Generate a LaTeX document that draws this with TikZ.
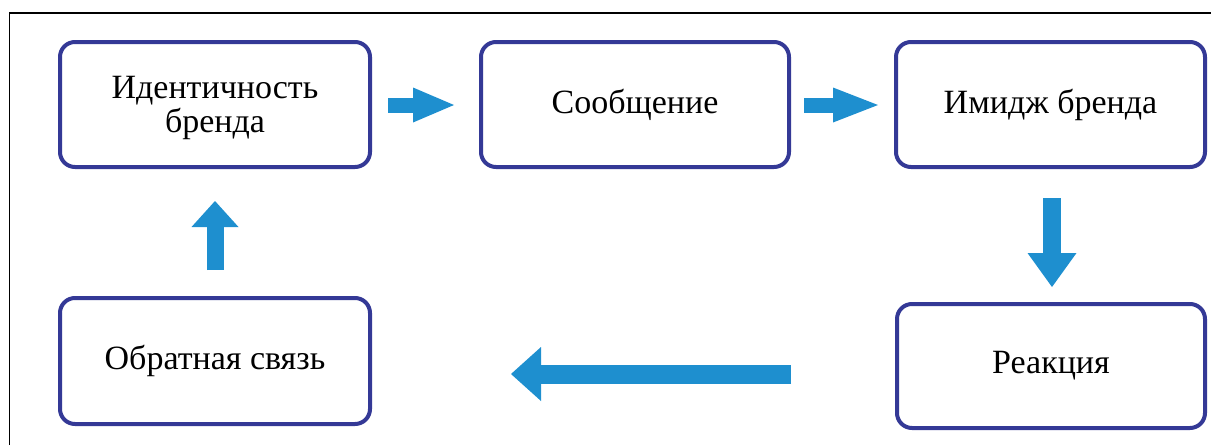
\documentclass[tikz,border=0pt]{standalone}
\usepackage{fontspec}
\setmainfont{Liberation Serif}
\usetikzlibrary{arrows.meta}

\definecolor{boxline}{RGB}{52,57,150}
\definecolor{flow}{RGB}{30,143,207}

\tikzset{
  stagebox/.style={draw=boxline, line width=4pt, rounded corners=15pt,
    fill=white, align=center, text=black, inner sep=0pt,
    font=\fontsize{34}{34}\selectfont},
  blockarrow/.style n args={3}{draw=flow, line width=#1,
    -{Triangle[width=#2, length=#3, line width=0pt, fill=flow]}},
}

\begin{document}
\begin{tikzpicture}[x=1pt, y=-1pt]
  \useasboundingbox (0,0) rectangle (1211,445);

  % outer frame (top and left edges)
  \draw[line width=1.8pt] (9.5,445) -- (9.5,13) -- (1211,13);

  % stages of the cycle
  \node[stagebox, minimum width=310pt, minimum height=125pt, text depth=0pt]
    (ident) at (215,104.5) {Идентичность\\бренда};
  \node[stagebox, minimum width=308pt, minimum height=125pt] (msg) at (635,104.5)
    {Сообщение};
  \node[stagebox, minimum width=309pt, minimum height=125pt] (image) at (1050.5,104.5)
    {Имидж бренда};
  \node[stagebox, minimum width=308pt, minimum height=124pt] (react) at (1051,366)
    {Реакция};
  \node[stagebox, minimum width=310pt, minimum height=126pt] (feed) at (215,361)
    {Обратная связь};

  % arrow end points in the gaps between the stages
  \coordinate (a1s) at (388,105);  \coordinate (a1e) at (454,105);
  \coordinate (a2s) at (804,105);  \coordinate (a2e) at (878,105);
  \coordinate (a3s) at (1052,198); \coordinate (a3e) at (1052,287);
  \coordinate (a4s) at (791,374);  \coordinate (a4e) at (511,374);
  \coordinate (a5s) at (215,270);  \coordinate (a5e) at (215,201);

  \draw[blockarrow={15pt}{35pt}{41pt}] (a1s) -- (a1e);
  \draw[blockarrow={15pt}{35pt}{45pt}] (a2s) -- (a2e);
  \draw[blockarrow={18pt}{49pt}{34pt}] (a3s) -- (a3e);
  \draw[blockarrow={19pt}{54pt}{30pt}] (a4s) -- (a4e);
  \draw[blockarrow={17pt}{47pt}{26pt}] (a5s) -- (a5e);
\end{tikzpicture}
\end{document}
